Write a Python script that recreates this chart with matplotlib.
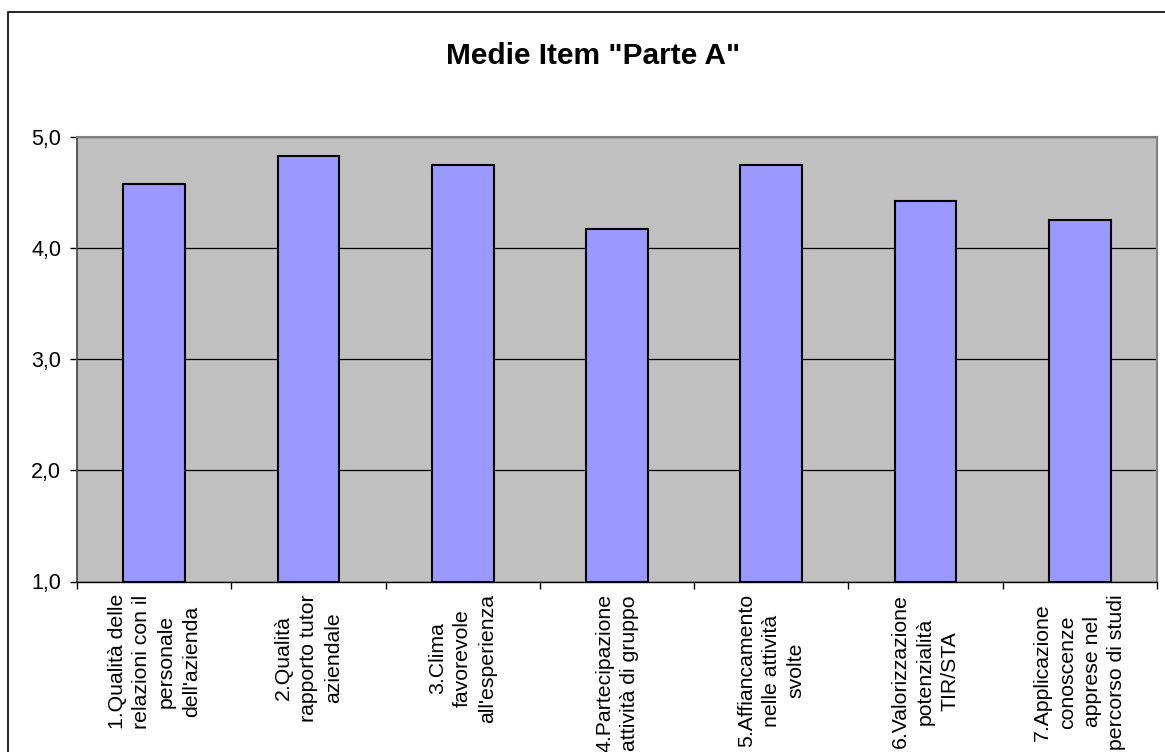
import matplotlib
matplotlib.use("Agg")
import matplotlib.pyplot as plt
from matplotlib.patches import Rectangle

plt.rcParams['font.family'] = ['Liberation Sans', 'DejaVu Sans']

# dati
etichette = [
    "1.Qualità delle\nrelazioni con il\npersonale\ndell'azienda",
    "2.Qualità\nrapporto tutor\naziendale",
    "3.Clima\nfavorevole\nall'esperienza",
    "4.Partecipazione\nattività di gruppo",
    "5.Affiancamento\nnelle attività\nsvolte",
    "6.Valorizzazione\npotenzialità\nTIR/STA",
    "7.Applicazione\nconoscenze\napprese nel\npercorso di studi",
]
medie = [4.58, 4.83, 4.75, 4.17, 4.75, 4.42, 4.25]
y_ticks = [1.0, 2.0, 3.0, 4.0, 5.0]

W, H = 1165, 752
fig = plt.figure(figsize=(W / 100, H / 100), dpi=100)

# cornice esterna (tagliata a destra e in basso)
fig.patches.append(Rectangle((8 / W, -0.05), 1.1, 1 - 12 / H + 0.05,
                             transform=fig.transFigure, fill=False,
                             edgecolor='black', linewidth=1.2))

ax = fig.add_axes([77 / W, 1 - 581.5 / H, (1157 - 77) / W, (581.5 - 137) / H])
ax.set_facecolor('#C0C0C0')

x = list(range(len(medie)))
ax.bar(x, [m - 1.0 for m in medie], bottom=1.0, width=0.4,
       color='#9999FF', edgecolor='black', linewidth=1.5, zorder=3)

ax.set_xlim(-0.5, len(medie) - 0.5)
ax.set_ylim(1.0, 5.0)
ax.set_yticks(y_ticks)
ax.set_yticklabels([("%.1f" % v).replace(".", ",") for v in y_ticks], fontsize=15.5)
ax.yaxis.grid(True, color='black', linewidth=0.9, zorder=1)
ax.set_axisbelow(True)

ax.set_xticks(x)
ax.set_xticklabels(etichette, rotation=90, fontsize=15.3, va='top', ha='center',
                   multialignment='center', linespacing=1.38)
ax.set_xticks([i - 0.5 for i in range(len(medie) + 1)], minor=True)
ax.tick_params(axis='x', which='major', length=0, pad=9)
ax.tick_params(axis='x', which='minor', length=5, width=1, direction='out')
ax.tick_params(axis='y', length=5, width=1, direction='out', pad=6.5)

for s in ['top', 'right']:
    ax.spines[s].set_color('#808080')
    ax.spines[s].set_linewidth(1.5)
ax.spines['left'].set_color('#404040')
ax.spines['left'].set_linewidth(1.2)
ax.spines['bottom'].set_color('black')
ax.spines['bottom'].set_linewidth(1.0)

fig.text(593 / W, 1 - 56 / H, 'Medie Item "Parte A"', fontsize=21.5,
         fontweight='bold', ha='center', va='center')

fig.savefig("out.png", dpi=100)
